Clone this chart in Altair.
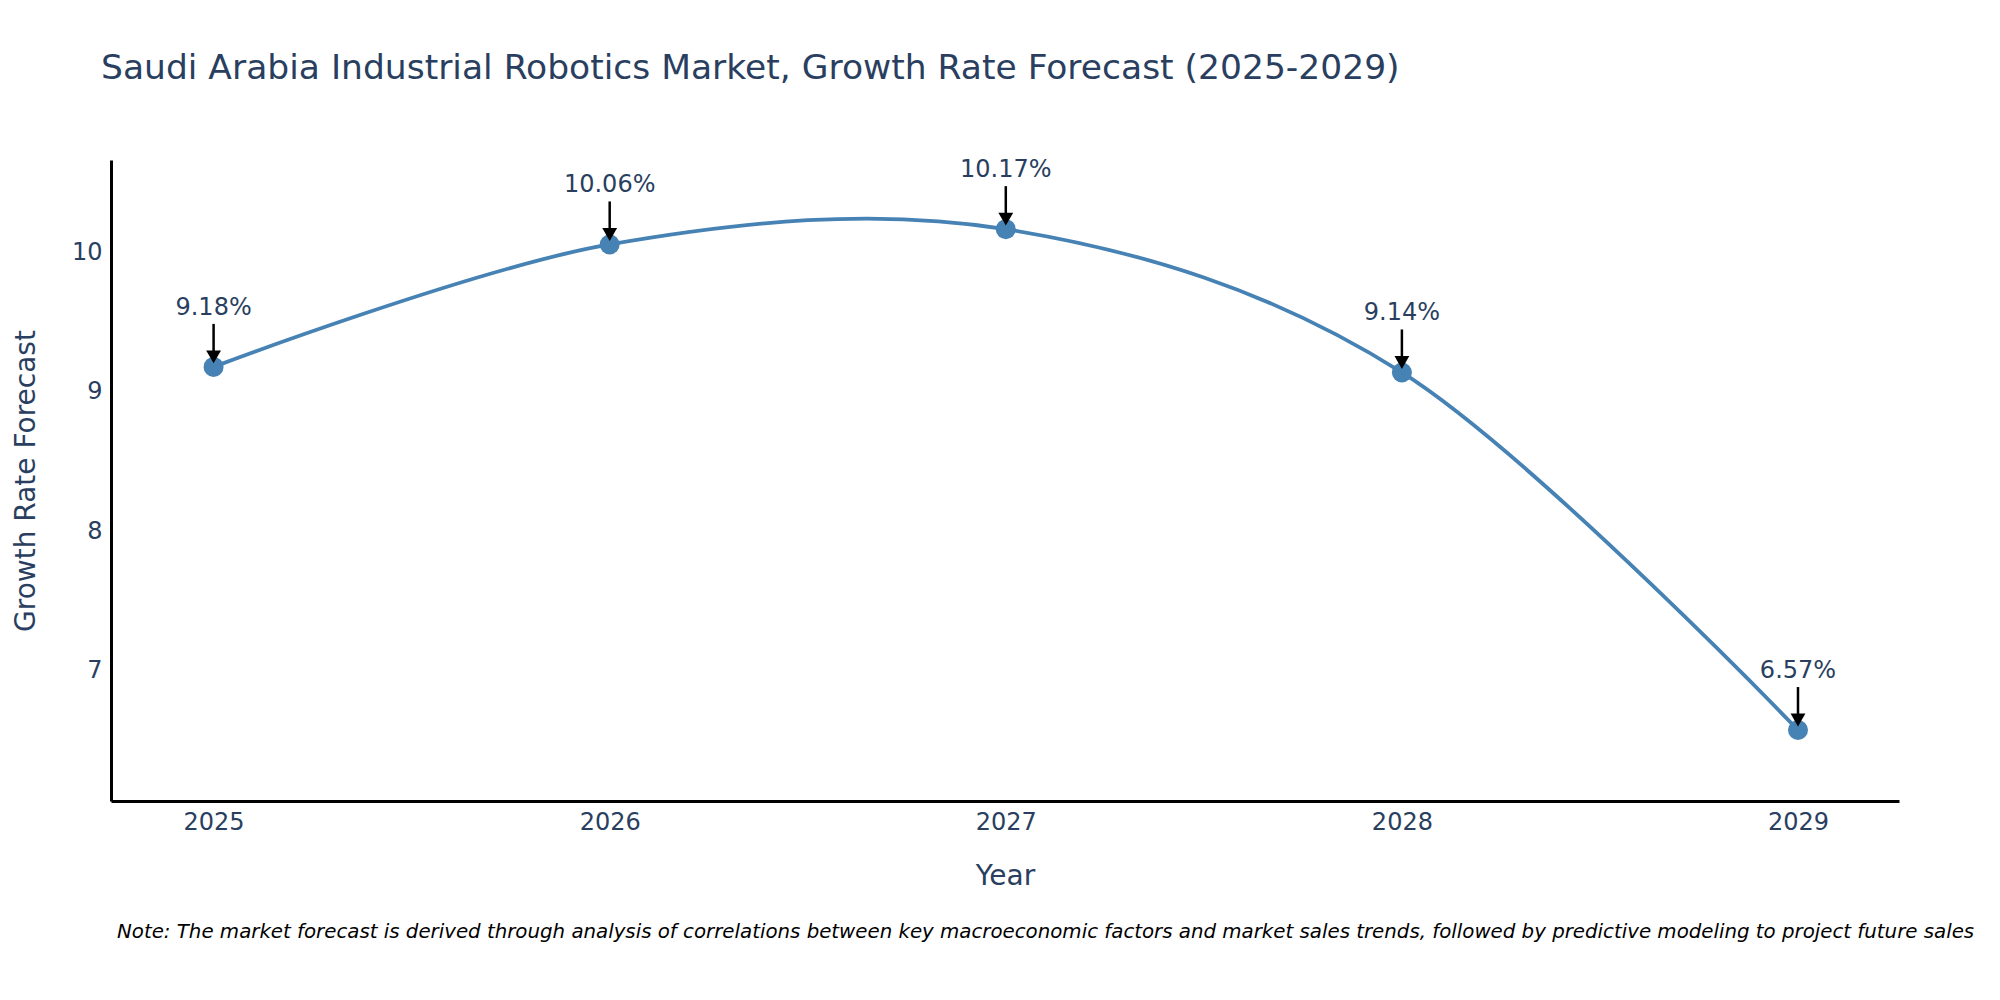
import altair as alt
import pandas as pd

years = [2025, 2026, 2027, 2028, 2029]
growth = [9.18, 10.06, 10.17, 9.14, 6.57]
labels = ["9.18%", "10.06%", "10.17%", "9.14%", "6.57%"]

TITLE = "Saudi Arabia Industrial Robotics Market, Growth Rate Forecast (2025-2029)"
NOTE = ("Note: The market forecast is derived through analysis of correlations between key "
        "macroeconomic factors and market sales trends, followed by predictive modeling to "
        "project future sales")

FONT = "DejaVu Sans"
TXT = "#2a3f5f"
LINE = "#4682B4"

df = pd.DataFrame({"Year": years, "Growth": growth, "Label": labels})

W, H = 1788, 641

xenc = alt.X("Year:Q",
             scale=alt.Scale(domain=[2024.741, 2029.255], nice=False, zero=False),
             axis=alt.Axis(values=years, format="d", title="Year",
                           titleX=W / 2, titleY=75, titleBaseline="middle",
                           titleAlign="center"))
yenc = alt.Y("Growth:Q",
             scale=alt.Scale(domain=[6.06, 10.667], nice=False, zero=False),
             axis=alt.Axis(values=[7, 8, 9, 10], format="d", title="Growth Rate Forecast",
                           titleX=-85, titleY=H / 2, titleAngle=270,
                           titleBaseline="middle", titleAlign="center"))

base = alt.Chart(df)

line = base.mark_line(interpolate="cardinal", color=LINE, strokeWidth=3.8).encode(x=xenc, y=yenc)
points = base.mark_circle(size=400, color=LINE, opacity=1).encode(x="Year:Q", y="Growth:Q")
arrows = base.mark_rule(color="black", strokeWidth=2.5, yOffset=-43, y2Offset=-14).encode(
    x="Year:Q", y="Growth:Q", y2="Growth:Q")
heads = base.mark_point(shape="triangle-down", size=220, filled=True, color="black",
                        opacity=1, yOffset=-10).encode(x="Year:Q", y="Growth:Q")
texts = base.mark_text(dy=-59, fontSize=24, font=FONT, color=TXT, baseline="middle").encode(
    x="Year:Q", y="Growth:Q", text="Label:N")

note = alt.Chart(pd.DataFrame({"note": [NOTE]})).mark_text(
    align="left", baseline="middle", fontSize=19.8, font=FONT, fontStyle="italic", color="black"
).encode(x=alt.value(6), y=alt.value(772), text="note:N")

chart = alt.layer(line, points, arrows, heads, texts, note).properties(
    width=W, height=H,
    autosize=alt.AutoSizeParams(type="none"),
    padding={"left": 103, "top": 152, "right": 93, "bottom": 182},
    title=alt.TitleParams(TITLE, anchor="start", frame="group", dx=-10, offset=45,
                          baseline="alphabetic", fontSize=34.5, font=FONT,
                          fontWeight="normal", color=TXT),
).configure_view(stroke=None).configure_axis(
    grid=False, ticks=False, tickSize=0, domainColor="black", domainWidth=3,
    labelFont=FONT, labelFontSize=24, labelColor=TXT,
    titleFont=FONT, titleFontSize=28, titleColor=TXT, titleFontWeight="normal",
).configure_axisY(labelPadding=9).configure_axisX(labelPadding=9)

chart.save("out.html", embed_options={"renderer": "svg", "actions": False})
